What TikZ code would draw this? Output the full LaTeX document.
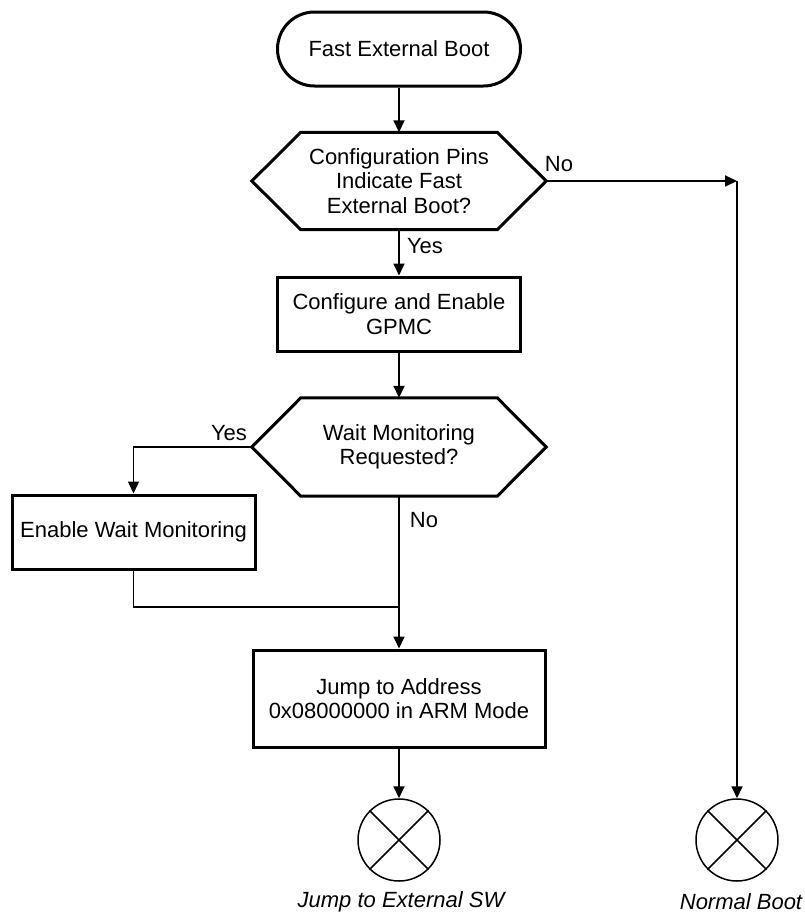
\documentclass[tikz,border=0pt]{standalone}
\usepackage{fontspec}
\setmainfont{Liberation Sans}
\usetikzlibrary{arrows.meta,calc}
\begin{document}
\begin{tikzpicture}[x=1pt,y=-1pt,
  font=\fontsize{22}{24.5}\selectfont,
  box/.style={draw, line width=3pt, minimum width=243pt, minimum height=74pt, align=center, inner sep=0pt},
  term/.style={box, rounded corners=37pt},
  hexin/.style={minimum width=196pt, minimum height=97pt, align=center, inner sep=0pt},
  hexline/.style={line width=3pt, line join=miter},
  conn/.style={line width=1.8pt, -{Triangle[length=12pt,width=11pt]}},
  connthin/.style={line width=1.4pt, -{Triangle[length=12pt,width=11pt]}},
  linethin/.style={line width=1.4pt},
  endc/.style={draw, circle, line width=1.5pt, minimum size=82pt, inner sep=0pt},
  lab/.style={inner sep=0pt},
  endlab/.style={inner sep=0pt, font=\fontsize{22}{24.5}\selectfont\itshape},
]
\useasboundingbox (0,0) rectangle (804,918);

% nodes
\node[term] (start) at (399,49) {Fast External Boot};

\node[hexin] (d1) at (399,181) {Configuration Pins\\Indicate Fast\\External Boot?};
\coordinate (d1e) at ($(d1.east)+(49,0)$);
\coordinate (d1w) at ($(d1.west)+(-49,0)$);
\draw[hexline] (d1.north west) -- (d1.north east) -- (d1e) -- (d1.south east) -- (d1.south west) -- (d1w) -- cycle;

\node[box] (cfg) at (399,314) {Configure and Enable\\GPMC};

\node[hexin, minimum height=98pt] (d2) at (399,447) {Wait Monitoring\\Requested?};
\coordinate (d2e) at ($(d2.east)+(49,0)$);
\coordinate (d2w) at ($(d2.west)+(-49,0)$);
\draw[hexline] (d2.north west) -- (d2.north east) -- (d2e) -- (d2.south east) -- (d2.south west) -- (d2w) -- cycle;

\node[box] (ewm) at (133.5,532) {Enable Wait Monitoring};

\node[box, minimum width=292pt, minimum height=97pt] (jmp) at (399,698.5) {Jump to Address\\0x08000000 in ARM Mode};

\node[endc] (e1) at (399,840) {};
\node[endc] (e2) at (737,840) {};
\draw[line width=1.5pt] (e1.north west) -- (e1.south east) (e1.north east) -- (e1.south west);
\draw[line width=1.5pt] (e2.north west) -- (e2.south east) (e2.north east) -- (e2.south west);

\node[endlab] (l1) at (401,902) {Jump to External SW};
\node[endlab] (l2) at (741,902) {Normal Boot};

\coordinate (nbc) at (737,181);
\coordinate (join) at (399,607);

% connectors
\draw[conn] (start) -- (d1.north);
\draw[conn] (d1e) -- (nbc);
\draw[conn] (nbc) -- (e2.north);
\draw[conn] (d1.south) -- (cfg.north);
\draw[conn] (cfg) -- (d2.north);
\draw[connthin] (d2w) -| (ewm.north);
\draw[linethin] (ewm.south) |- (join);
\draw[conn] (d2.south) -- (jmp.north);
\draw[conn] (jmp) -- (e1.north);

% labels
\node[lab] (no1) at (559,164) {No};
\node[lab] (yes1) at (425,246) {Yes};
\node[lab] (yes2) at (229,433) {Yes};
\node[lab] (no2) at (424,520) {No};
\end{tikzpicture}
\end{document}
